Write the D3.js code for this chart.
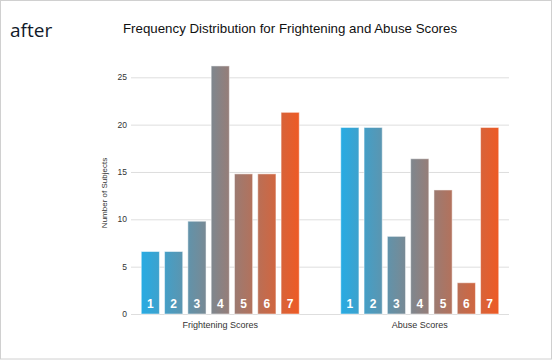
<!DOCTYPE html>
<html><head><meta charset="utf-8">
<script src="https://cdn.jsdelivr.net/npm/d3@7"></script>
<style>html,body{margin:0;padding:0;background:#fff;}svg{display:block;}</style>
</head><body>
<svg id="chart" width="554" height="361"></svg>
<script>
const groups = ["Frightening Scores", "Abuse Scores"];
const scores = ["1","2","3","4","5","6","7"];
const frighteningValues = [6.6, 6.6, 9.8, 26.2, 14.8, 14.8, 21.3];
const abuseValues = [19.7, 19.7, 8.2, 16.4, 13.1, 3.3, 19.7];
const yTicks = [0, 5, 10, 15, 20, 25];
const seriesValues = [frighteningValues, abuseValues];

const svg = d3.select("#chart");
svg.append("rect").attr("x",0.5).attr("y",0.5).attr("width",551).attr("height",358.5)
  .attr("fill","#fff").attr("stroke","#d0d0d0");

svg.append("text").attr("x",10).attr("y",37).text("after")
  .attr("font-family","'Open Sans', 'Noto Sans', sans-serif").attr("font-size",19).attr("fill","#111a28");

svg.append("text").attr("x",290).attr("y",33).attr("text-anchor","middle")
  .attr("font-family","'Liberation Sans', Arial, sans-serif").attr("font-size",13.3).attr("fill","#111")
  .text("Frequency Distribution for Frightening and Abuse Scores");

const y = d3.scaleLinear().domain([0,25]).range([314,77.3]);
const x0 = d3.scaleBand().domain(groups).range([120.5,519.5]).padding(0);
const x1 = d3.scaleBand().domain(scores).range([-79,79]).paddingInner(0.22).paddingOuter(0);

const gridG = svg.append("g");
gridG.selectAll("line").data(yTicks).join("line")
  .attr("x1",131).attr("x2",509).attr("y1",d=>y(d)+0.5).attr("y2",d=>y(d)+0.5)
  .attr("stroke","#dedede").attr("stroke-width",1);
gridG.selectAll("text").data(yTicks).join("text")
  .attr("x",127).attr("y",d=>y(d)+3).attr("text-anchor","end")
  .attr("font-family","'Liberation Sans', Arial, sans-serif").attr("font-size",8.5).attr("fill","#333")
  .text(d=>d);

svg.append("text").attr("transform","translate(107,193) rotate(-90)").attr("text-anchor","middle")
  .attr("font-family","'Liberation Sans', Arial, sans-serif").attr("font-size",8).attr("fill","#333")
  .text("Number of Subjects");

const defs = svg.append("defs");
groups.forEach((g,gi)=>{
  const cx = x0(g) + x0.bandwidth()/2;
  const grad = defs.append("linearGradient").attr("id","grad"+gi)
    .attr("gradientUnits","userSpaceOnUse")
    .attr("x1",cx+x1(scores[0])).attr("x2",cx+x1(scores[6])+x1.bandwidth())
    .attr("y1",0).attr("y2",0);
  grad.append("stop").attr("offset","0%").attr("stop-color","#27abe3");
  grad.append("stop").attr("offset","50%").attr("stop-color","#8a8283");
  grad.append("stop").attr("offset","100%").attr("stop-color","#ee5a24");

  const data = scores.map((s,i)=>({s, v: seriesValues[gi][i]}));
  const gg = svg.append("g");
  gg.selectAll("rect").data(data).join("rect")
    .attr("x",d=>cx+x1(d.s)).attr("width",x1.bandwidth())
    .attr("y",d=>y(d.v)).attr("height",d=>y(0)-y(d.v))
    .attr("fill",`url(#grad${gi})`)
    .attr("stroke","rgba(255,255,255,0.5)").attr("stroke-width",1);
  gg.selectAll("text.num").data(data).join("text").attr("class","num")
    .attr("x",d=>cx+x1(d.s)+x1.bandwidth()/2).attr("y",308).attr("text-anchor","middle")
    .attr("font-family","'Liberation Sans', Arial, sans-serif").attr("font-weight","bold")
    .attr("font-size",12).attr("fill","#fff").text(d=>d.s);
  svg.append("text").attr("x",cx).attr("y",328).attr("text-anchor","middle")
    .attr("font-family","'Liberation Sans', Arial, sans-serif").attr("font-size",9).attr("fill","#333")
    .text(g);
});
</script>
</body></html>
